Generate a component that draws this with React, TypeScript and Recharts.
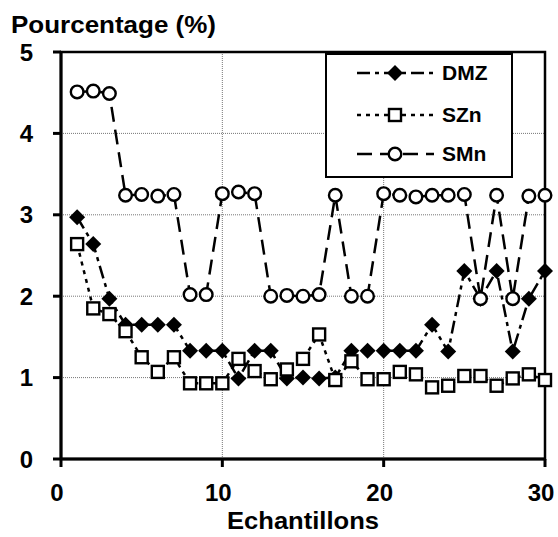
import { CartesianGrid, Legend, Line, LineChart, ReferenceArea, XAxis, YAxis } from "recharts";

// Valeurs (échantillons 1 à 30)
const SAMPLES = [
  1, 2, 3, 4, 5, 6, 7, 8, 9, 10, 11, 12, 13, 14, 15, 16, 17, 18, 19, 20, 21, 22, 23, 24, 25, 26, 27, 28, 29, 30,
];
const DMZ = [
  2.97, 2.64, 1.97, 1.65, 1.65, 1.65, 1.65, 1.33, 1.33, 1.33, 0.99, 1.33, 1.33, 0.99, 1.0, 0.99, 1.0, 1.33, 1.33,
  1.33, 1.33, 1.33, 1.65, 1.32, 2.31, 1.97, 2.31, 1.32, 1.97, 2.31,
];
const SZN = [
  2.64, 1.85, 1.78, 1.57, 1.25, 1.07, 1.25, 0.93, 0.93, 0.93, 1.23, 1.08, 0.98, 1.1, 1.23, 1.53, 0.97, 1.2, 0.98,
  0.98, 1.07, 1.04, 0.88, 0.9, 1.02, 1.02, 0.9, 0.99, 1.04, 0.97,
];
const SMN = [
  4.51, 4.52, 4.49, 3.24, 3.25, 3.23, 3.25, 2.02, 2.02, 3.26, 3.28, 3.26, 2.0, 2.01, 2.0, 2.02, 3.24, 2.0, 2.0, 3.26,
  3.24, 3.22, 3.24, 3.24, 3.25, 1.97, 3.24, 1.97, 3.23, 3.24,
];
const X_TICKS = [0, 10, 20, 30];
const Y_TICKS = [0, 1, 2, 3, 4, 5];

const data = SAMPLES.map((x, i) => ({ x, dmz: DMZ[i], szn: SZN[i], smn: SMN[i] }));

const FONT = "'Liberation Sans', Arial, sans-serif";

const DASH = {
  dmz: "13 5 4 5",
  szn: "4 5",
  smn: "15 8",
};

// ── marqueurs ────────────────────────────────────────────────────────────

function diamond(cx: number, cy: number, key?: string) {
  const s = 8;
  return <path key={key} d={`M${cx},${cy - s}L${cx + s},${cy}L${cx},${cy + s}L${cx - s},${cy}Z`} fill="#000" />;
}

function square(cx: number, cy: number, key?: string) {
  return <rect key={key} x={cx - 6} y={cy - 6} width={12} height={12} fill="#fff" stroke="#000" strokeWidth={2.4} />;
}

function circle(cx: number, cy: number, key?: string) {
  return <circle key={key} cx={cx} cy={cy} r={6.3} fill="#fff" stroke="#000" strokeWidth={2.4} />;
}

const SERIES = [
  { key: "dmz", name: "DMZ", marker: diamond },
  { key: "szn", name: "SZn", marker: square },
  { key: "smn", name: "SMn", marker: circle },
] as const;

function LegendBox() {
  const rows = [20, 62, 101];
  return (
    <svg width={188} height={125} style={{ display: "block" }}>
      <rect x={1} y={1} width={186} height={123} fill="#fff" stroke="#000" strokeWidth={2} />
      {SERIES.map((s, i) => (
        <g key={s.key}>
          <line x1={32} x2={109} y1={rows[i]} y2={rows[i]} stroke="#000" strokeWidth={2.5} strokeDasharray={DASH[s.key]} />
          {s.marker(70, rows[i])}
          <text x={117} y={rows[i] + 7} fontFamily={FONT} fontWeight="bold" fontSize={21} fill="#000">
            {s.name}
          </text>
        </g>
      ))}
    </svg>
  );
}

export default function App() {
  return (
    <div style={{ position: "absolute", left: 0, top: 0, background: "#fff" }}>
      <LineChart width={558} height={537} data={data} margin={{ top: 52, right: 13, left: 0, bottom: 28 }}>
        <CartesianGrid stroke="#777" strokeDasharray="1 1" strokeWidth={1} />
        <ReferenceArea x1={0} x2={30} y1={0} y2={5} fill="none" stroke="#000" strokeWidth={2.5} ifOverflow="visible" />
        <XAxis
          dataKey="x"
          type="number"
          domain={[0, 30]}
          ticks={X_TICKS}
          height={50}
          stroke="#000"
          strokeWidth={3}
          tickSize={8}
          tickMargin={17}
          tick={{ fill: "#000", fontFamily: FONT, fontWeight: "bold", fontSize: 24, dx: -4 }}
          label={{
            content: () => (
              <text
                x={303}
                y={529}
                textAnchor="middle"
                fontFamily={FONT}
                fontWeight="bold"
                fontSize={24}
                textLength={152}
                lengthAdjust="spacingAndGlyphs"
                fill="#000"
              >
                Echantillons
              </text>
            ),
          }}
        />
        <YAxis
          type="number"
          domain={[0, 5]}
          ticks={Y_TICKS}
          width={61}
          stroke="#000"
          strokeWidth={3}
          tickSize={8}
          tickMargin={20}
          tick={{ fill: "#000", fontFamily: FONT, fontWeight: "bold", fontSize: 24 }}
          label={{
            content: () => (
              <text
                x={11}
                y={33}
                fontFamily={FONT}
                fontWeight="bold"
                fontSize={23}
                textLength={205}
                lengthAdjust="spacingAndGlyphs"
                fill="#000"
              >
                Pourcentage (%)
              </text>
            ),
          }}
        />
        <Legend
          layout="vertical"
          align="center"
          verticalAlign="middle"
          wrapperStyle={{ position: "absolute", left: 325, top: 53, width: 188, height: 125 }}
          content={() => <LegendBox />}
        />
        {SERIES.map((s) => (
          <Line
            key={s.key}
            dataKey={s.key}
            name={s.name}
            type="linear"
            stroke="#000"
            strokeWidth={2.5}
            strokeDasharray={DASH[s.key]}
            dot={(p: any) => s.marker(p.cx, p.cy, `${s.key}-${p.index}`)}
            activeDot={false}
            isAnimationActive={false}
          />
        ))}
      </LineChart>
    </div>
  );
}
